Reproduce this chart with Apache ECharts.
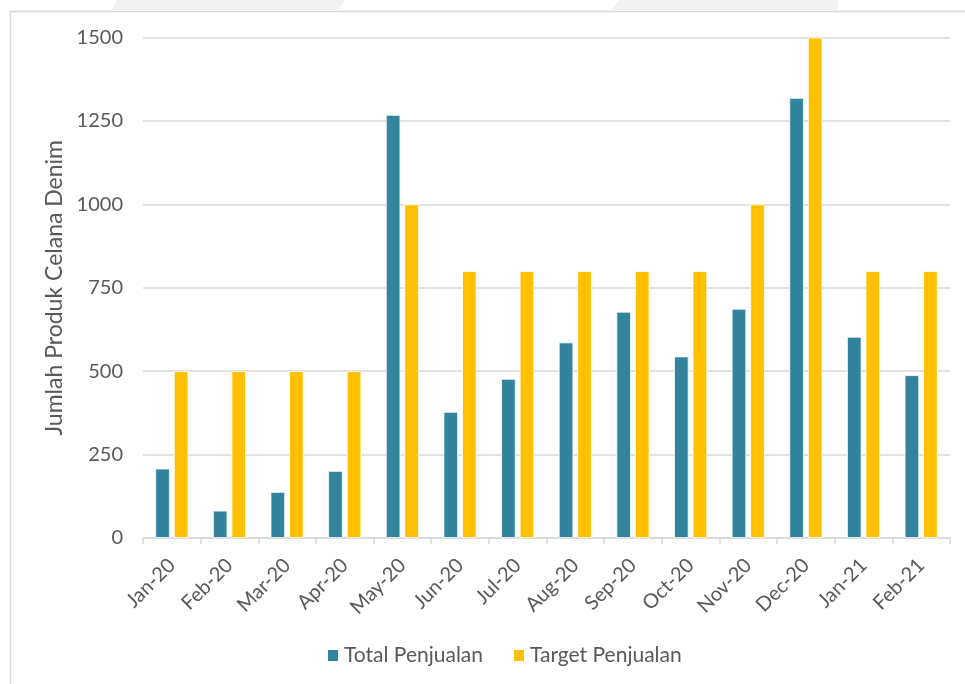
<!DOCTYPE html>
<html>
<head>
<meta charset="utf-8">
<script src="https://cdn.jsdelivr.net/npm/echarts@6/dist/echarts.min.js"></script>
<style>
html,body{margin:0;padding:0;background:#fff;}
#chart{width:965px;height:684px;}
</style>
</head>
<body>
<div id="chart"></div>
<script>
const categories = ['Jan-20','Feb-20','Mar-20','Apr-20','May-20','Jun-20','Jul-20','Aug-20','Sep-20','Oct-20','Nov-20','Dec-20','Jan-21','Feb-21'];
const totalPenjualan = [208, 82, 138, 201, 1268, 378, 477, 586, 678, 544, 687, 1319, 603, 488];
const targetPenjualan = [500, 500, 500, 500, 1000, 800, 800, 800, 800, 800, 1000, 1500, 800, 800];
const yTicks = [0, 250, 500, 750, 1000, 1250, 1500];

const FONT = 'Lato, "Open Sans", sans-serif';
const chart = echarts.init(document.getElementById('chart'), null, {renderer: 'canvas'});
chart.setOption({
  backgroundColor: '#ffffff',
  animation: false,
  graphic: [
    {type: 'polygon', shape: {points: [[117,0],[345,0],[338,10],[112,10]]}, style: {fill: '#f2f2f3'}, z: -10},
    {type: 'polygon', shape: {points: [[620,0],[838,0],[838,10],[610,10]]}, style: {fill: '#f2f2f3'}, z: -10},
    {type: 'rect', shape: {x: 10.5, y: 11.5, width: 1000, height: 700}, style: {fill: 'none', stroke: '#d9d9d9', lineWidth: 1.5}, z: -5}
  ],
  grid: {left: 143, right: 15, top: 37.5, bottom: 146, containLabel: false},
  legend: {
    data: ['Total Penjualan', 'Target Penjualan'],
    top: 640,
    left: 321,
    itemWidth: 12,
    itemHeight: 13,
    itemGap: 29,
    icon: 'rect',
    textStyle: {fontFamily: FONT, fontSize: 21, color: '#595959'}
  },
  xAxis: {
    type: 'category',
    data: categories,
    axisLine: {lineStyle: {color: '#d9d9d9', width: 1.5}},
    axisTick: {show: true, length: 6, alignWithLabel: false, lineStyle: {color: '#d9d9d9', width: 1.5}},
    axisLabel: {rotate: 45, fontFamily: FONT, fontSize: 20, color: '#595959', margin: 24, interval: 0}
  },
  yAxis: {
    type: 'value',
    min: yTicks[0],
    max: yTicks[yTicks.length - 1],
    interval: 250,
    name: 'Jumlah Produk Celana Denim',
    nameLocation: 'middle',
    nameGap: 74,
    nameTextStyle: {fontFamily: FONT, fontSize: 23, color: '#595959'},
    axisLine: {show: false},
    axisTick: {show: false},
    axisLabel: {fontFamily: FONT, fontSize: 20, color: '#595959', margin: 20, formatter: v => String(v)},
    splitLine: {lineStyle: {color: '#d9d9d9', width: 1.5}}
  },
  series: [
    {
      name: 'Total Penjualan',
      type: 'bar',
      data: totalPenjualan,
      barWidth: 14.5,
      barGap: '28%',
      itemStyle: {color: '#31849b', borderColor: '#ffffff', borderWidth: 0.8}
    },
    {
      name: 'Target Penjualan',
      type: 'bar',
      data: targetPenjualan,
      barWidth: 14.5,
      barGap: '28%',
      itemStyle: {color: '#ffc000', borderColor: '#ffffff', borderWidth: 0.8}
    }
  ]
});
</script>
</body>
</html>
